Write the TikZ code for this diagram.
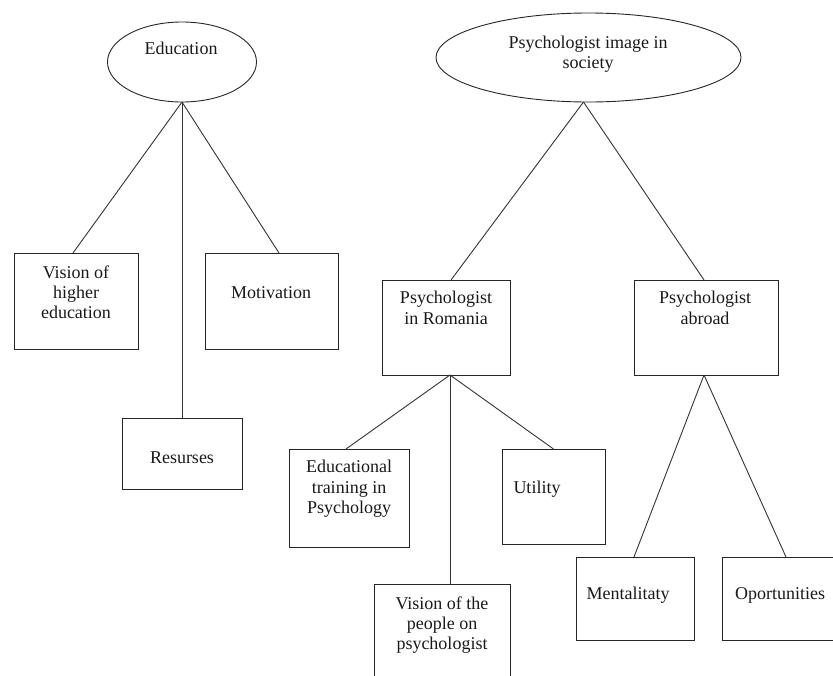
\documentclass[tikz,border=0pt]{standalone}
\usepackage{fontspec}
\setmainfont{Liberation Serif}
\usetikzlibrary{shapes.geometric}
\begin{document}
\begin{tikzpicture}[x=1pt,y=-1pt,
  every node/.style={inner sep=0pt, outer sep=0pt},
  conn/.style={draw=black!80, line width=0.9pt},
  boxnode/.style={draw=black!85, line width=0.9pt, rectangle},
  oval/.style={draw=black!85, line width=0.9pt, ellipse},
  txt/.style={font=\fontsize{18}{20.7}\selectfont, text height=12pt, text depth=0pt, text=black!90}]
\useasboundingbox (0,0) rectangle (833,675);
\clip (0,0) rectangle (833,675);

% ovals
\node[oval, minimum width=149pt, minimum height=80pt] (edu) at (182,62) {};
\node[txt] (edu-t) at (181,48) {Education};
\node[oval, minimum width=305pt, minimum height=89pt] (psy) at (588.5,57.5) {};
\node[txt] (psy-t1) at (588,42) {Psychologist image in};
\node[txt] (psy-t2) at (588,62) {society};

% boxes
\node[boxnode, minimum width=124pt, minimum height=96pt] (vis) at (76,301) {};
\node[boxnode, minimum width=133pt, minimum height=96pt] (mot) at (271.5,301) {};
\node[boxnode, minimum width=120pt, minimum height=71pt] (res) at (182,453.5) {};
\node[boxnode, minimum width=128pt, minimum height=95pt] (rom) at (446,327.5) {};
\node[boxnode, minimum width=144pt, minimum height=95pt] (abr) at (706,327.5) {};
\node[boxnode, minimum width=120pt, minimum height=98pt] (edt) at (349,498) {};
\node[boxnode, minimum width=103pt, minimum height=95pt] (uti) at (553.5,496.5) {};
\node[boxnode, minimum width=136pt, minimum height=100pt] (vpp) at (442,634) {};
\node[boxnode, minimum width=118pt, minimum height=83pt] (men) at (635,598.5) {};
\node[boxnode, minimum width=128pt, minimum height=83pt] (opo) at (786,598.5) {};

% texts
\node[txt] (vis-t1) at (76,272) {Vision of};
\node[txt] (vis-t2) at (76,292) {higher};
\node[txt] (vis-t3) at (76,312) {education};
\node[txt] (mot-t) at (271,292) {Motivation};
\node[txt] (res-t) at (182,457) {Resurses};
\node[txt] (rom-t1) at (446,297) {Psychologist};
\node[txt] (rom-t2) at (446,318) {in Romania};
\node[txt] (abr-t1) at (705,297) {Psychologist};
\node[txt] (abr-t2) at (705,318) {abroad};
\node[txt] (edt-t1) at (349,466) {Educational};
\node[txt] (edt-t2) at (349,487) {training in};
\node[txt] (edt-t3) at (349,507) {Psychology};
\node[txt] (uti-t) at (537,487) {Utility};
\node[txt] (vpp-t1) at (442,603) {Vision of the};
\node[txt] (vpp-t2) at (442,623) {people on};
\node[txt] (vpp-t3) at (442,643) {psychologist};
\node[txt] (men-t) at (628,593) {Mentalitaty};
\node[txt] (opo-t) at (780,593) {Oportunities};

% connectors
\draw[conn] (edu.south) -- ([xshift=-3pt]vis.north);
\draw[conn] (edu.south) -- (res.north);
\draw[conn] (edu.south) -- ([xshift=7.5pt]mot.north);
\draw[conn] ([xshift=-5pt]psy.south) -- ([xshift=5pt]rom.north);
\draw[conn] ([xshift=-5pt]psy.south) -- ([xshift=-2pt]abr.north);
\draw[conn] ([xshift=4pt]rom.south) -- ([xshift=-3pt]edt.north);
\draw[conn] ([xshift=4pt]rom.south) -- ([xshift=8pt]vpp.north);
\draw[conn] ([xshift=4pt]rom.south) -- (uti.north);
\draw[conn] ([xshift=-2pt]abr.south) -- ([xshift=-1pt]men.north);
\draw[conn] ([xshift=-2pt]abr.south) -- (opo.north);
\end{tikzpicture}
\end{document}
